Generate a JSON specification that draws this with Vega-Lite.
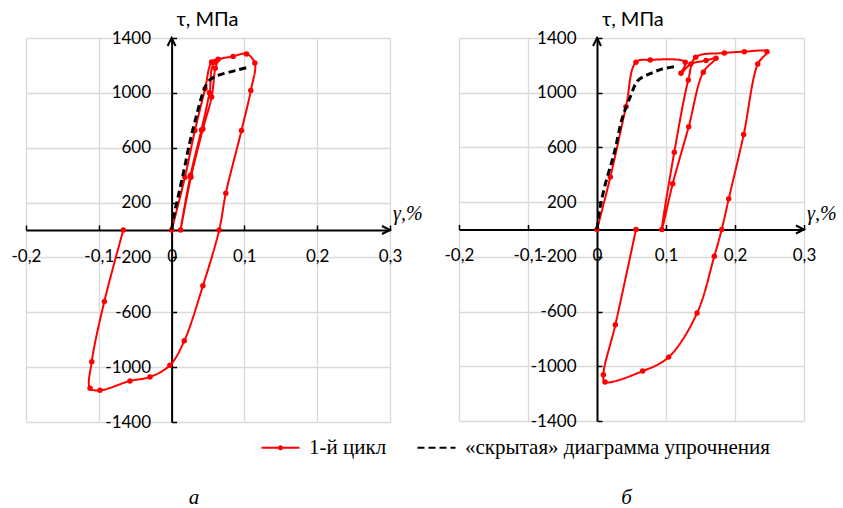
{
  "$schema": "https://vega.github.io/schema/vega-lite/v6.json",
  "background": "white",
  "padding": {"left": 11, "top": 10, "right": 5, "bottom": 5},
  "config": {
    "view": {"stroke": null},
    "font": "Lato",
    "axis": {
      "gridColor": "#d9d9d9",
      "gridWidth": 1.3,
      "domainColor": "#000000",
      "domainWidth": 2,
      "tickColor": "#000000",
      "tickWidth": 1.5,
      "tickSize": -5,
      "labelFont": "Lato",
      "labelFontSize": 17,
      "labelColor": "#000000",
      "labelFlush": false,
      "labelOverlap": false,
      "labelBound": false,
      "title": null
    }
  },
  "datasets": {
    "curves": [
      {"panel": "a", "series": "1-й цикл", "i": 0, "x": 0, "y": 0},
      {"panel": "a", "series": "1-й цикл", "i": 1, "x": 0.0183, "y": 384},
      {"panel": "a", "series": "1-й цикл", "i": 2, "x": 0.032, "y": 725},
      {"panel": "a", "series": "1-й цикл", "i": 3, "x": 0.046, "y": 1030},
      {"panel": "a", "series": "1-й цикл", "i": 4, "x": 0.055, "y": 1225},
      {"panel": "a", "series": "1-й цикл", "i": 5, "x": 0.064, "y": 1245},
      {"panel": "a", "series": "1-й цикл", "i": 6, "x": 0.060, "y": 1180},
      {"panel": "a", "series": "1-й цикл", "i": 7, "x": 0.055, "y": 970},
      {"panel": "a", "series": "1-й цикл", "i": 8, "x": 0.043, "y": 737},
      {"panel": "a", "series": "1-й цикл", "i": 9, "x": 0.0265, "y": 384},
      {"panel": "a", "series": "1-й цикл", "i": 10, "x": 0.0123, "y": 0},
      {"panel": "a", "series": "1-й цикл", "i": 11, "x": 0.026, "y": 400},
      {"panel": "a", "series": "1-й цикл", "i": 12, "x": 0.041, "y": 730},
      {"panel": "a", "series": "1-й цикл", "i": 13, "x": 0.052, "y": 1000},
      {"panel": "a", "series": "1-й цикл", "i": 14, "x": 0.059, "y": 1224},
      {"panel": "a", "series": "1-й цикл", "i": 15, "x": 0.0845, "y": 1266},
      {"panel": "a", "series": "1-й цикл", "i": 16, "x": 0.1029, "y": 1284},
      {"panel": "a", "series": "1-й цикл", "i": 17, "x": 0.1143, "y": 1217},
      {"panel": "a", "series": "1-й цикл", "i": 18, "x": 0.1088, "y": 1018},
      {"panel": "a", "series": "1-й цикл", "i": 19, "x": 0.096, "y": 726},
      {"panel": "a", "series": "1-й цикл", "i": 20, "x": 0.0745, "y": 268},
      {"panel": "a", "series": "1-й цикл", "i": 21, "x": 0.0654, "y": 0},
      {"panel": "a", "series": "1-й цикл", "i": 22, "x": 0.043, "y": -407},
      {"panel": "a", "series": "1-й цикл", "i": 23, "x": 0.0174, "y": -808},
      {"panel": "a", "series": "1-й цикл", "i": 24, "x": -0.0023, "y": -986},
      {"panel": "a", "series": "1-й цикл", "i": 25, "x": -0.0298, "y": -1072},
      {"panel": "a", "series": "1-й цикл", "i": 26, "x": -0.0572, "y": -1101},
      {"panel": "a", "series": "1-й цикл", "i": 27, "x": -0.0984, "y": -1169},
      {"panel": "a", "series": "1-й цикл", "i": 28, "x": -0.112, "y": -1154},
      {"panel": "a", "series": "1-й цикл", "i": 29, "x": -0.1097, "y": -960},
      {"panel": "a", "series": "1-й цикл", "i": 30, "x": -0.0924, "y": -521},
      {"panel": "a", "series": "1-й цикл", "i": 31, "x": -0.0663, "y": 0},
      {"panel": "a", "series": "«скрытая» диаграмма упрочнения", "i": 0, "x": 0, "y": 0},
      {"panel": "a", "series": "«скрытая» диаграмма упрочнения", "i": 1, "x": 0.003, "y": 100},
      {"panel": "a", "series": "«скрытая» диаграмма упрочнения", "i": 2, "x": 0.011, "y": 290},
      {"panel": "a", "series": "«скрытая» диаграмма упрочнения", "i": 3, "x": 0.018, "y": 460},
      {"panel": "a", "series": "«скрытая» диаграмма упрочнения", "i": 4, "x": 0.025, "y": 640},
      {"panel": "a", "series": "«скрытая» диаграмма упрочнения", "i": 5, "x": 0.034, "y": 830},
      {"panel": "a", "series": "«скрытая» диаграмма упрочнения", "i": 6, "x": 0.043, "y": 1000},
      {"panel": "a", "series": "«скрытая» диаграмма упрочнения", "i": 7, "x": 0.05, "y": 1080},
      {"panel": "a", "series": "«скрытая» диаграмма упрочнения", "i": 8, "x": 0.058, "y": 1115},
      {"panel": "a", "series": "«скрытая» диаграмма упрочнения", "i": 9, "x": 0.068, "y": 1135},
      {"panel": "a", "series": "«скрытая» диаграмма упрочнения", "i": 10, "x": 0.088, "y": 1163},
      {"panel": "a", "series": "«скрытая» диаграмма упрочнения", "i": 11, "x": 0.107, "y": 1190},
      {"panel": "b", "series": "1-й цикл", "i": 0, "x": 0, "y": 0},
      {"panel": "b", "series": "1-й цикл", "i": 1, "x": 0.0193, "y": 383},
      {"panel": "b", "series": "1-й цикл", "i": 2, "x": 0.042, "y": 898},
      {"panel": "b", "series": "1-й цикл", "i": 3, "x": 0.0565, "y": 1223},
      {"panel": "b", "series": "1-й цикл", "i": 4, "x": 0.0772, "y": 1240},
      {"panel": "b", "series": "1-й цикл", "i": 5, "x": 0.128, "y": 1223},
      {"panel": "b", "series": "1-й цикл", "i": 6, "x": 0.1217, "y": 1142},
      {"panel": "b", "series": "1-й цикл", "i": 7, "x": 0.136, "y": 1210},
      {"panel": "b", "series": "1-й цикл", "i": 8, "x": 0.158, "y": 1235},
      {"panel": "b", "series": "1-й цикл", "i": 9, "x": 0.1725, "y": 1252},
      {"panel": "b", "series": "1-й цикл", "i": 10, "x": 0.154, "y": 1150},
      {"panel": "b", "series": "1-й цикл", "i": 11, "x": 0.1329, "y": 752},
      {"panel": "b", "series": "1-й цикл", "i": 12, "x": 0.1097, "y": 334},
      {"panel": "b", "series": "1-й цикл", "i": 13, "x": 0.094, "y": 0},
      {"panel": "b", "series": "1-й цикл", "i": 14, "x": 0.112, "y": 565},
      {"panel": "b", "series": "1-й цикл", "i": 15, "x": 0.1323, "y": 1093},
      {"panel": "b", "series": "1-й цикл", "i": 16, "x": 0.143, "y": 1259},
      {"panel": "b", "series": "1-й цикл", "i": 17, "x": 0.1845, "y": 1290},
      {"panel": "b", "series": "1-й цикл", "i": 18, "x": 0.2135, "y": 1300},
      {"panel": "b", "series": "1-й цикл", "i": 19, "x": 0.2464, "y": 1300},
      {"panel": "b", "series": "1-й цикл", "i": 20, "x": 0.233, "y": 1210},
      {"panel": "b", "series": "1-й цикл", "i": 21, "x": 0.2126, "y": 694},
      {"panel": "b", "series": "1-й цикл", "i": 22, "x": 0.1909, "y": 224},
      {"panel": "b", "series": "1-й цикл", "i": 23, "x": 0.1807, "y": 0},
      {"panel": "b", "series": "1-й цикл", "i": 24, "x": 0.170, "y": -195},
      {"panel": "b", "series": "1-й цикл", "i": 25, "x": 0.145, "y": -611},
      {"panel": "b", "series": "1-й цикл", "i": 26, "x": 0.1039, "y": -933},
      {"panel": "b", "series": "1-й цикл", "i": 27, "x": 0.0662, "y": -1035},
      {"panel": "b", "series": "1-й цикл", "i": 28, "x": 0.0116, "y": -1115},
      {"panel": "b", "series": "1-й цикл", "i": 29, "x": 0.0092, "y": -1062},
      {"panel": "b", "series": "1-й цикл", "i": 30, "x": 0.0266, "y": -696},
      {"panel": "b", "series": "1-й цикл", "i": 31, "x": 0.0565, "y": 0},
      {"panel": "b", "series": "«скрытая» диаграмма упрочнения", "i": 0, "x": 0, "y": 0},
      {"panel": "b", "series": "«скрытая» диаграмма упрочнения", "i": 1, "x": 0.004, "y": 150},
      {"panel": "b", "series": "«скрытая» диаграмма упрочнения", "i": 2, "x": 0.012, "y": 330},
      {"panel": "b", "series": "«скрытая» диаграмма упрочнения", "i": 3, "x": 0.025, "y": 560},
      {"panel": "b", "series": "«скрытая» диаграмма упрочнения", "i": 4, "x": 0.037, "y": 821},
      {"panel": "b", "series": "«скрытая» диаграмма упрочнения", "i": 5, "x": 0.049, "y": 979},
      {"panel": "b", "series": "«скрытая» диаграмма упрочнения", "i": 6, "x": 0.059, "y": 1088},
      {"panel": "b", "series": "«скрытая» диаграмма упрочнения", "i": 7, "x": 0.076, "y": 1137},
      {"panel": "b", "series": "«скрытая» диаграмма упрочнения", "i": 8, "x": 0.095, "y": 1174},
      {"panel": "b", "series": "«скрытая» диаграмма упрочнения", "i": 9, "x": 0.115, "y": 1193}
    ],
    "arrows": [
      {"dir": "x", "x": 0.3, "y": 0},
      {"dir": "y", "x": 0, "y": 1400}
    ],
    "axisTitles": [
      {"which": "tau", "x": 0, "y": 1400, "t": "τ, МПа"},
      {"which": "gamma", "x": 0.3, "y": 0, "t": "γ,%"}
    ]
  },
  "spacing": 69,
  "bounds": "flush",
  "resolve": {"scale": {"color": "shared", "strokeDash": "shared"}},
  "hconcat": [
    {
      "width": 364,
      "height": 384,
      "title": {"text": "а", "orient": "bottom", "frame": "group", "font": "Liberation Serif", "fontStyle": "italic", "fontWeight": "normal", "fontSize": 21, "color": "#000000", "offset": 57, "dx": -14},
      "layer": [
        {
          "data": {"name": "curves"},
          "transform": [{"filter": "datum.panel === 'a' && datum.series === '1-й цикл'"}],
          "mark": {"type": "line", "interpolate": "catmull-rom", "strokeWidth": 2},
          "encoding": {
            "x": {"field": "x", "type": "quantitative",
              "scale": {"domain": [-0.2, 0.3], "nice": false, "zero": false},
              "axis": {"offset": -192, "labelPadding": 23,
                "values": [-0.2, -0.15, -0.1, -0.05, 0, 0.05, 0.1, 0.15, 0.2, 0.25, 0.3],
                "labelExpr": "abs(round(datum.value * 20)) % 2 === 0 ? replace(replace(format(datum.value, '.1~f'), '.', ','), '−', '-') : ''",
                "tickOpacity": {"condition": {"test": "abs(round(datum.value * 20)) % 2 === 0", "value": 1}, "value": 0}}},
            "y": {"field": "y", "type": "quantitative",
              "scale": {"domain": [-1400, 1400], "nice": false, "zero": false},
              "axis": {"offset": -145.6, "labelPadding": 26,
                "values": [-1400, -1200, -1000, -800, -600, -400, -200, 0, 200, 400, 600, 800, 1000, 1200, 1400],
                "labelExpr": "(datum.value + 1400) % 400 === 0 ? replace(format(datum.value, 'd'), '−', '-') : ''",
                "tickOpacity": {"condition": {"test": "(datum.value + 1400) % 400 === 0", "value": 1}, "value": 0}}},
            "order": {"field": "i", "type": "quantitative"},
            "color": {"field": "series", "type": "nominal",
              "scale": {"domain": ["1-й цикл", "«скрытая» диаграмма упрочнения"], "range": ["#ff0000", "#000000"]},
              "legend": {"title": null, "orient": "none", "legendX": 234, "legendY": 389, "direction": "horizontal",
                "labelFont": "Liberation Serif", "labelFontSize": 21, "labelColor": "#000000", "labelLimit": 500,
                "symbolType": "stroke", "symbolSize": 1444, "symbolStrokeWidth": 2.2, "labelOffset": 8, "columnPadding": 26,
                "encode": {"symbols": {"update": {"shape": {"signal": "datum.index === 0 ? 'M-1,0L1,0M0.08,0A0.08,0.08,0,1,1,-0.08,0A0.08,0.08,0,1,1,0.08,0' : 'stroke'"}}}}}},
            "strokeDash": {"field": "series", "type": "nominal",
              "scale": {"domain": ["1-й цикл", "«скрытая» диаграмма упрочнения"], "range": [[1, 0], [7, 4]]}}
          }
        },
        {
          "data": {"name": "curves"},
          "transform": [{"filter": "datum.panel === 'a' && datum.series === '1-й цикл'"}],
          "mark": {"type": "point", "filled": true, "size": 30, "opacity": 1, "color": "#ff0000"},
          "encoding": {
            "x": {"field": "x", "type": "quantitative"},
            "y": {"field": "y", "type": "quantitative"}
          }
        },
        {
          "data": {"name": "curves"},
          "transform": [{"filter": "datum.panel === 'a' && datum.series !== '1-й цикл'"}],
          "mark": {"type": "line", "interpolate": "catmull-rom", "strokeWidth": 3},
          "encoding": {
            "x": {"field": "x", "type": "quantitative"},
            "y": {"field": "y", "type": "quantitative"},
            "order": {"field": "i", "type": "quantitative"},
            "color": {"field": "series", "type": "nominal"},
            "strokeDash": {"field": "series", "type": "nominal"}
          }
        },
        {
          "data": {"name": "arrows"},
          "mark": {"type": "point", "filled": false, "stroke": "#000000", "strokeWidth": 2, "size": 256, "opacity": 1},
          "encoding": {
            "x": {"field": "x", "type": "quantitative"},
            "y": {"field": "y", "type": "quantitative"},
            "shape": {"field": "dir", "type": "nominal", "legend": null,
              "scale": {"domain": ["x", "y"], "range": ["M-1,-0.5L0,0L-1,0.5", "M-0.5,1L0,0L0.5,1"]}}
          }
        },
        {
          "data": {"name": "axisTitles"},
          "transform": [{"filter": "datum.which === 'tau'"}],
          "mark": {"type": "text", "align": "left", "baseline": "alphabetic", "dx": 5, "dy": -12, "font": "Lato", "fontSize": 20, "color": "#000000"},
          "encoding": {
            "x": {"field": "x", "type": "quantitative"},
            "y": {"field": "y", "type": "quantitative"},
            "text": {"field": "t"}
          }
        },
        {
          "data": {"name": "axisTitles"},
          "transform": [{"filter": "datum.which === 'gamma'"}],
          "mark": {"type": "text", "align": "left", "baseline": "alphabetic", "dx": 3, "dy": -10, "font": "Liberation Serif", "fontStyle": "italic", "fontSize": 20, "color": "#000000"},
          "encoding": {
            "x": {"field": "x", "type": "quantitative"},
            "y": {"field": "y", "type": "quantitative"},
            "text": {"field": "t"}
          }
        }
      ]
    },
    {
      "width": 345,
      "height": 383,
      "title": {"text": "б", "orient": "bottom", "frame": "group", "font": "Liberation Serif", "fontStyle": "italic", "fontWeight": "normal", "fontSize": 21, "color": "#000000", "offset": 58, "dx": -5},
      "layer": [
        {
          "data": {"name": "curves"},
          "transform": [{"filter": "datum.panel === 'b' && datum.series === '1-й цикл'"}],
          "mark": {"type": "line", "interpolate": "catmull-rom", "strokeWidth": 2},
          "encoding": {
            "x": {"field": "x", "type": "quantitative",
              "scale": {"domain": [-0.2, 0.3], "nice": false, "zero": false},
              "axis": {"offset": -191.5, "labelPadding": 23,
                "values": [-0.2, -0.15, -0.1, -0.05, 0, 0.05, 0.1, 0.15, 0.2, 0.25, 0.3],
                "labelExpr": "abs(round(datum.value * 20)) % 2 === 0 ? replace(replace(format(datum.value, '.1~f'), '.', ','), '−', '-') : ''",
                "tickOpacity": {"condition": {"test": "abs(round(datum.value * 20)) % 2 === 0", "value": 1}, "value": 0}}},
            "y": {"field": "y", "type": "quantitative",
              "scale": {"domain": [-1400, 1400], "nice": false, "zero": false},
              "axis": {"offset": -138, "labelPadding": 26,
                "values": [-1400, -1200, -1000, -800, -600, -400, -200, 0, 200, 400, 600, 800, 1000, 1200, 1400],
                "labelExpr": "(datum.value + 1400) % 400 === 0 ? replace(format(datum.value, 'd'), '−', '-') : ''",
                "tickOpacity": {"condition": {"test": "(datum.value + 1400) % 400 === 0", "value": 1}, "value": 0}}},
            "order": {"field": "i", "type": "quantitative"},
            "color": {"field": "series", "type": "nominal"},
            "strokeDash": {"field": "series", "type": "nominal"}
          }
        },
        {
          "data": {"name": "curves"},
          "transform": [{"filter": "datum.panel === 'b' && datum.series === '1-й цикл'"}],
          "mark": {"type": "point", "filled": true, "size": 30, "opacity": 1, "color": "#ff0000"},
          "encoding": {
            "x": {"field": "x", "type": "quantitative"},
            "y": {"field": "y", "type": "quantitative"}
          }
        },
        {
          "data": {"name": "curves"},
          "transform": [{"filter": "datum.panel === 'b' && datum.series !== '1-й цикл'"}],
          "mark": {"type": "line", "interpolate": "catmull-rom", "strokeWidth": 3},
          "encoding": {
            "x": {"field": "x", "type": "quantitative"},
            "y": {"field": "y", "type": "quantitative"},
            "order": {"field": "i", "type": "quantitative"},
            "color": {"field": "series", "type": "nominal"},
            "strokeDash": {"field": "series", "type": "nominal"}
          }
        },
        {
          "data": {"name": "arrows"},
          "mark": {"type": "point", "filled": false, "stroke": "#000000", "strokeWidth": 2, "size": 256, "opacity": 1},
          "encoding": {
            "x": {"field": "x", "type": "quantitative"},
            "y": {"field": "y", "type": "quantitative"},
            "shape": {"field": "dir", "type": "nominal", "legend": null,
              "scale": {"domain": ["x", "y"], "range": ["M-1,-0.5L0,0L-1,0.5", "M-0.5,1L0,0L0.5,1"]}}
          }
        },
        {
          "data": {"name": "axisTitles"},
          "transform": [{"filter": "datum.which === 'tau'"}],
          "mark": {"type": "text", "align": "left", "baseline": "alphabetic", "dx": 5, "dy": -12, "font": "Lato", "fontSize": 20, "color": "#000000"},
          "encoding": {
            "x": {"field": "x", "type": "quantitative"},
            "y": {"field": "y", "type": "quantitative"},
            "text": {"field": "t"}
          }
        },
        {
          "data": {"name": "axisTitles"},
          "transform": [{"filter": "datum.which === 'gamma'"}],
          "mark": {"type": "text", "align": "left", "baseline": "alphabetic", "dx": 3, "dy": -10, "font": "Liberation Serif", "fontStyle": "italic", "fontSize": 20, "color": "#000000"},
          "encoding": {
            "x": {"field": "x", "type": "quantitative"},
            "y": {"field": "y", "type": "quantitative"},
            "text": {"field": "t"}
          }
        }
      ]
    }
  ]
}
